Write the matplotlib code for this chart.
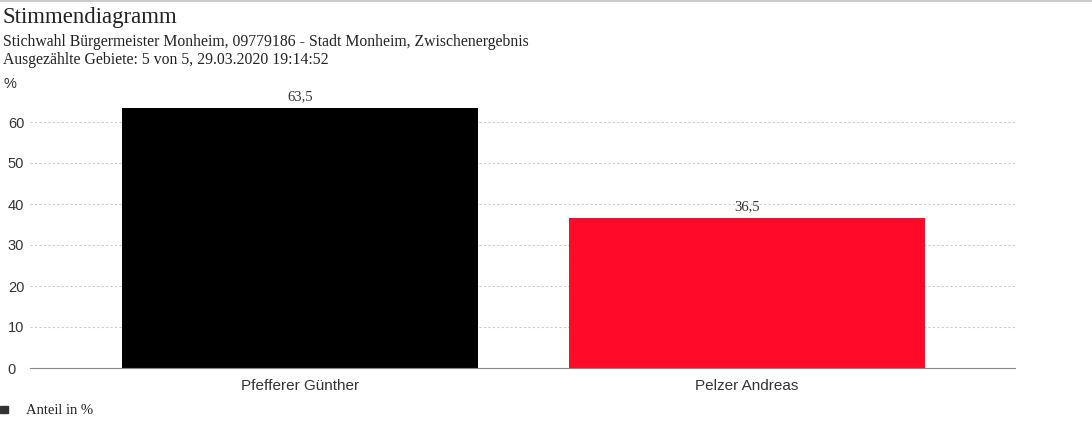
import matplotlib
matplotlib.use("Agg")
import matplotlib.pyplot as plt

categories = ["Pfefferer Günther", "Pelzer Andreas"]
values = [63.5, 36.5]
labels = ["63,5", "36,5"]
colors = ["#000000", "#ff0a28"]
yticks = [0, 10, 20, 30, 40, 50, 60]

W, H = 1092, 437
fig = plt.figure(figsize=(W/100, H/100), dpi=100)
ax = fig.add_axes([30/W, (H-368)/H, 985/W, (368-101.5)/H])
x = list(range(len(categories)))
ax.bar(x, values, width=0.796, color=colors, zorder=2)
for xi, v, l in zip(x, values, labels):
    ax.text(xi, v + 1.2, l, ha="center", va="bottom", fontsize=10.5, family="Liberation Serif", color="#333")
ax.set_xlim(-0.604, 1.6)
ax.set_ylim(0, 65)
ax.set_yticks(yticks)
ax.set_yticklabels([str(t) for t in yticks], family="Liberation Sans", fontsize=10.5, color="#333")
ax.set_xticks(x)
ax.set_xticklabels(categories, family="Liberation Sans", fontsize=11, color="#333")
ax.tick_params(length=0)
ax.tick_params(axis="x", pad=8)
for t in yticks[1:]:
    ax.axhline(t, color="#cccccc", lw=0.8, ls=(0, (2, 2)), zorder=1)
for s in ["top", "right", "left"]:
    ax.spines[s].set_visible(False)
ax.spines["bottom"].set_color("#888888")
for lab in ax.get_yticklabels():
    lab.set_horizontalalignment("left")
ax.yaxis.set_tick_params(pad=16)

fig.text(4/W, 1-84/H, "%", family="Liberation Sans", fontsize=10.5, color="#333", va="center")
fig.text(3/W, 1-18/H, "Stimmendiagramm", family="Liberation Serif", fontsize=16.5, color="#222", va="center")
fig.text(3/W, 1-42/H, "Stichwahl Bürgermeister Monheim, 09779186 - Stadt Monheim, Zwischenergebnis", family="Liberation Serif", fontsize=11.3, color="#222", va="center")
fig.text(3/W, 1-60/H, "Ausgezählte Gebiete: 5 von 5, 29.03.2020 19:14:52", family="Liberation Serif", fontsize=11.3, color="#222", va="center")
fig.patches.append(plt.Rectangle((0, 1-413/H), 8/W, 7/H, transform=fig.transFigure, color="#333", figure=fig))
fig.text(26/W, 1-410/H, "Anteil in %", family="Liberation Serif", fontsize=10.5, color="#222", va="center")
fig.lines.append(plt.Line2D([0, 1], [1-1/H, 1-1/H], transform=fig.transFigure, color="#cccccc", lw=1.5))
fig.savefig("out.png", dpi=100)
